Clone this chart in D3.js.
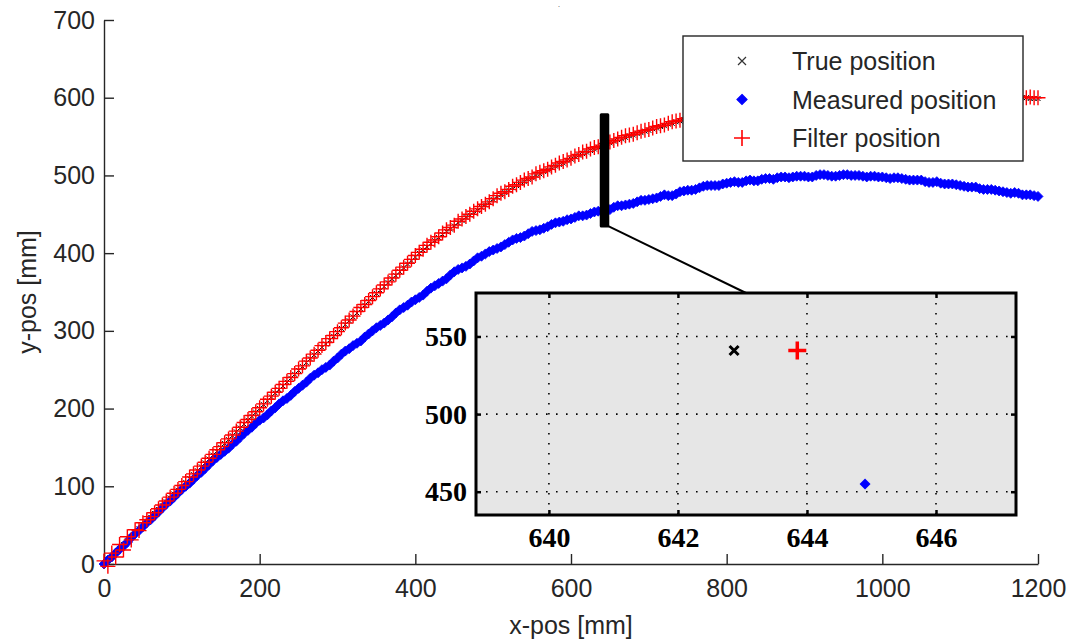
<!DOCTYPE html>
<html>
<head>
<meta charset="utf-8">
<script src="https://cdn.jsdelivr.net/npm/d3@7/dist/d3.min.js"></script>
<style>
  body{margin:0;background:#fff;}
  text{font-family:"Liberation Sans",Arial,sans-serif;}
</style>
</head>
<body>
<svg id="chart" width="1069" height="641"></svg>
<script>
// sample positions along x [mm]
var sampleX = [0,5,10,15,20,25,30,35,40,45,50,55,60,65,70,75,80,85,90,95,
  100,105,110,115,120,125,130,135,140,145,150,155,160,165,170,175,180,185,190,195,
  200,205,210,215,220,225,230,235,240,245,250,255,260,265,270,275,280,285,290,295,
  300,305,310,315,320,325,330,335,340,345,350,355,360,365,370,375,380,385,390,395,
  400,405,410,415,420,425,430,435,440,445,450,455,460,465,470,475,480,485,490,495,
  500,505,510,515,520,525,530,535,540,545,550,555,560,565,570,575,580,585,590,595,
  600,605,610,615,620,625,630,635,640,645,650,655,660,665,670,675,680,685,690,695,
  700,705,710,715,720,725,730,735,740,745,750,755,760,765,770,775,780,785,790,795,
  800,805,810,815,820,825,830,835,840,845,850,855,860,865,870,875,880,885,890,895,
  900,905,910,915,920,925,930,935,940,945,950,955,960,965,970,975,980,985,990,995,
  1000,1005,1010,1015,1020,1025,1030,1035,1040,1045,1050,1055,1060,1065,1070,1075,1080,1085,1090,1095,
  1100,1105,1110,1115,1120,1125,1130,1135,1140,1145,1150,1155,1160,1165,1170,1175,1180,1185,1190,1195,
  1200];

var trueY = [0,5,10,15,20,25,30,35,40,45,50,55,60,65,70,75,80,85,90,95,
  100,105,110,115,120,125,130,135,140,145,150,155,160,165,170,175,180,185,190,195,
  200,205,210,215,220,224,229,234,239,244,249,254,259,264,269,274,279,283,288,293,
  298,303,308,313,318,323,328,333,338,343,348,352,357,362,367,371,376,381,386,390,
  395,400,404,408,412,416,420,424,428,431,435,439,442,446,449,452,455,459,462,465,
  469,472,475,478,481,484,487,490,492,495,497,500,502,505,507,510,512,514,516,519,
  521,524,526,528,530,532,534,536,538,540,542,544,546,547,549,551,552,554,555,557,
  558,560,561,563,564,566,567,569,570,572,573,574,575,577,578,579,580,581,582,583,
  584,585,586,586,587,588,588,589,590,590,591,592,592,593,593,594,594,594,594,595,
  595,595,596,596,596,597,597,597,597,598,598,598,598,599,599,599,599,599,599,600,
  600,600,600,600,600,600,600,600,600,600,600,600,600,600,600,600,600,600,600,600,
  600,600,600,600,600,600,600,600,600,600,600,600,600,600,600,600,600,600,599,599,
  599];

var filterY = [4,-3,14,9,25,18,35,31,44,43,53,57,61,66,71,76,81,86,91,96,
  101,106,112,116,121,126,131,136,141,147,151,156,161,166,171,176,182,186,191,196,
  201,206,212,216,221,226,231,235,240,245,251,255,261,265,270,275,281,285,290,294,
  299,304,310,314,319,325,330,334,339,344,349,354,359,363,368,373,378,382,387,392,
  397,401,405,410,414,417,421,426,430,433,436,441,444,447,450,454,457,460,463,466,
  470,474,477,479,482,486,488,491,494,496,498,502,504,506,508,511,513,516,518,520,
  522,525,527,530,531,534,536,537,539,541,543,545,547,549,551,552,553,555,557,558,
  559,561,563,564,565,567,569,570,571,573,574,576,577,578,579,580,582,583,583,584,
  586,586,587,588,589,589,590,590,591,592,593,593,593,594,595,595,595,596,596,596,
  597,597,597,598,598,598,598,598,599,599,599,599,600,600,600,600,601,600,601,600,
  601,601,600,601,601,602,601,601,601,602,601,600,601,602,601,601,601,602,601,601,
  601,600,601,602,601,601,600,601,602,601,601,601,600,601,601,602,601,600,601,600,
  600];

var measuredY = [0,5,9,14,19,23,28,34,39,43,48,53,57,62,67,72,77,81,86,91,
  96,100,104,109,114,118,123,128,133,137,141,145,149,154,158,163,168,172,176,181,
  185,188,192,197,201,206,210,213,217,222,226,230,234,239,243,246,250,253,256,261,
  265,270,274,277,281,284,287,292,296,300,304,307,310,314,318,323,327,330,333,337,
  340,343,346,351,355,358,361,364,367,372,376,379,381,383,386,390,394,396,399,402,
  404,406,408,411,414,417,419,420,422,425,428,429,430,432,434,437,439,440,441,443,
  444,446,448,448,449,451,453,454,455,455,456,459,461,461,462,463,464,466,468,468,
  469,470,471,473,475,474,474,476,479,480,481,481,482,484,486,487,487,487,487,489,
  490,491,492,491,491,493,494,493,493,495,496,496,495,497,498,498,497,498,499,499,
  499,498,498,500,501,501,500,499,499,500,501,501,500,500,500,499,498,499,499,498,
  498,497,496,497,497,496,495,494,494,494,494,492,491,491,492,490,489,489,489,488,
  487,486,485,485,485,483,482,482,482,481,480,479,478,477,478,477,475,475,475,474,
  473];

var xTicks = [0,200,400,600,800,1000,1200];
var yTicks = [0,100,200,300,400,500,600,700];

// zoomed window
var zoomX = [638.87, 647.24];
var zoomY = [435, 578];
var zoomTicksX = [640,642,644,646];
var zoomTicksY = [450,500,550];
var zoomTrue = [642.87, 541];
var zoomFilter = [643.85, 541];
var zoomMeasured = [644.9, 455];

var legendLabels = ["True position","Measured position","Filter position"];

var ink = "#262626";
var svg = d3.select("#chart");

var x = d3.scaleLinear().domain([0,1200]).range([104,1038]);
var y = d3.scaleLinear().domain([0,700]).range([564,20]);

function crossPath(h){ return "M"+(-h)+","+(-h)+"L"+h+","+h+"M"+(-h)+","+h+"L"+h+","+(-h); }
function plusPath(h){ return "M"+(-h)+",0L"+h+",0M0,"+(-h)+"L0,"+h; }
function diamondPath(h){ return "M0,"+(-h)+"L"+h+",0L0,"+h+"L"+(-h)+",0Z"; }

// axes (box off, ticks inside)
var xAxis = d3.axisBottom(x).tickValues(xTicks).tickFormat(d3.format("d"))
              .tickSizeInner(-10).tickSizeOuter(0).tickPadding(15);
var yAxis = d3.axisLeft(y).tickValues(yTicks).tickFormat(d3.format("d"))
              .tickSizeInner(-10).tickSizeOuter(0).tickPadding(9);

var gx = svg.append("g").attr("transform","translate(0,564)").call(xAxis);
var gy = svg.append("g").attr("transform","translate(104,0)").call(yAxis);
[gx,gy].forEach(function(g){
  g.select(".domain").attr("stroke",ink).attr("stroke-width",1.4);
  g.selectAll(".tick line").attr("stroke",ink).attr("stroke-width",1.4);
  g.selectAll(".tick text").attr("fill",ink).style("font-size","25px")
   .style("font-family","'Liberation Sans',Arial,sans-serif");
});

svg.append("text").attr("x",571).attr("y",634).attr("text-anchor","middle")
   .attr("fill",ink).style("font-size","25px").text("x-pos [mm]");
svg.append("text").attr("transform","translate(36,292) rotate(-90)").attr("text-anchor","middle")
   .attr("fill",ink).style("font-size","25px").text("y-pos [mm]");
svg.append("text").attr("x",559).attr("y",7).attr("text-anchor","middle")
   .attr("fill",ink).style("font-size","7px").text(".");

// series
svg.append("g").selectAll("path").data(sampleX).enter().append("path")
   .attr("d",crossPath(2.5))
   .attr("transform",function(d,i){ return "translate("+x(d)+","+y(trueY[i])+")"; })
   .attr("stroke","#000").attr("stroke-width",1).attr("fill","none");

svg.append("g").selectAll("path").data(sampleX).enter().append("path")
   .attr("d",diamondPath(5))
   .attr("transform",function(d,i){ return "translate("+x(d)+","+y(measuredY[i])+")"; })
   .attr("fill","#0000ff").attr("stroke","#0000ff").attr("stroke-width",0.8);

svg.append("g").selectAll("path").data(sampleX).enter().append("path")
   .attr("d",plusPath(7.5))
   .attr("transform",function(d,i){ return "translate("+x(d)+","+y(filterY[i])+")"; })
   .attr("stroke","#ff0000").attr("stroke-width",1.4).attr("fill","none");

// zoom window marker + connector
var inset = {left:476, right:1016, top:293, bottom:515};
svg.append("rect")
   .attr("x",x(zoomX[0])).attr("y",y(zoomY[1]))
   .attr("width",x(zoomX[1])-x(zoomX[0])).attr("height",y(zoomY[0])-y(zoomY[1]))
   .attr("fill","#000").attr("stroke","#000").attr("stroke-width",3).attr("stroke-linejoin","round");
svg.append("line")
   .attr("x1",x(zoomX[1])).attr("y1",y(zoomY[0]))
   .attr("x2",(inset.left+inset.right)/2).attr("y2",inset.top)
   .attr("stroke","#000").attr("stroke-width",2);

// inset
var ix = d3.scaleLinear().domain(zoomX).range([inset.left,inset.right]);
var iy = d3.scaleLinear().domain(zoomY).range([inset.bottom,inset.top]);
var ig = svg.append("g");
ig.append("rect").attr("x",inset.left).attr("y",inset.top)
  .attr("width",inset.right-inset.left).attr("height",inset.bottom-inset.top)
  .attr("fill","#e6e6e6");

ig.selectAll("line.gx").data(zoomTicksX).enter().append("line").attr("class","gx")
  .attr("x1",function(d){return ix(d);}).attr("x2",function(d){return ix(d);})
  .attr("y1",inset.top).attr("y2",inset.bottom)
  .attr("stroke","#000").attr("stroke-width",1.6).attr("stroke-dasharray","1.6,8.4");
ig.selectAll("line.gy").data(zoomTicksY).enter().append("line").attr("class","gy")
  .attr("y1",function(d){return iy(d);}).attr("y2",function(d){return iy(d);})
  .attr("x1",inset.left).attr("x2",inset.right)
  .attr("stroke","#000").attr("stroke-width",1.6).attr("stroke-dasharray","1.6,8.4");

var ib = ig.append("g").attr("transform","translate(0,"+inset.bottom+")")
  .call(d3.axisBottom(ix).tickValues(zoomTicksX).tickSizeInner(-5).tickSizeOuter(0).tickPadding(12));
var it = ig.append("g").attr("transform","translate(0,"+inset.top+")")
  .call(d3.axisTop(ix).tickValues(zoomTicksX).tickSizeInner(-5).tickSizeOuter(0).tickFormat(""));
var il = ig.append("g").attr("transform","translate("+inset.left+",0)")
  .call(d3.axisLeft(iy).tickValues(zoomTicksY).tickSizeInner(-5).tickSizeOuter(0).tickPadding(9));
var ir = ig.append("g").attr("transform","translate("+inset.right+",0)")
  .call(d3.axisRight(iy).tickValues(zoomTicksY).tickSizeInner(-5).tickSizeOuter(0).tickFormat(""));
[ib,it,il,ir].forEach(function(g){
  g.select(".domain").remove();
  g.selectAll(".tick line").attr("stroke","#000").attr("stroke-width",2.5);
  g.selectAll(".tick text").attr("fill","#000").style("font-size","28px")
   .style("font-weight","bold").style("font-family","'Liberation Serif','Times New Roman',serif");
});

ig.append("path").attr("d",crossPath(4.5))
  .attr("transform","translate("+ix(zoomTrue[0])+","+iy(zoomTrue[1])+")")
  .attr("stroke","#000").attr("stroke-width",3).attr("fill","none");
ig.append("path").attr("d",diamondPath(5.5))
  .attr("transform","translate("+ix(zoomMeasured[0])+","+iy(zoomMeasured[1])+")")
  .attr("fill","#0000ff");
ig.append("path").attr("d",plusPath(9))
  .attr("transform","translate("+ix(zoomFilter[0])+","+iy(zoomFilter[1])+")")
  .attr("stroke","#ff0000").attr("stroke-width",3.5).attr("fill","none");

ig.append("rect").attr("x",inset.left).attr("y",inset.top)
  .attr("width",inset.right-inset.left).attr("height",inset.bottom-inset.top)
  .attr("fill","none").attr("stroke","#000").attr("stroke-width",3);

// legend
var lg = svg.append("g");
lg.append("rect").attr("x",683).attr("y",36).attr("width",340).attr("height",125)
  .attr("fill","#fff").attr("stroke",ink).attr("stroke-width",1.4);
var rows = lg.selectAll("g.row").data(legendLabels).enter().append("g")
  .attr("transform",function(d,i){ return "translate(742,"+(61+i*38.5)+")"; });
rows.append("path")
  .attr("d",function(d,i){ return i===0 ? crossPath(4) : (i===1 ? diamondPath(5) : plusPath(8)); })
  .attr("stroke",function(d,i){ return ["#333","#0000ff","#ff0000"][i]; })
  .attr("stroke-width",function(d,i){ return i===2 ? 1.6 : 1.2; })
  .attr("fill",function(d,i){ return i===1 ? "#0000ff" : "none"; });
rows.append("text").attr("x",50).attr("dy","0.36em")
  .attr("fill",ink).style("font-size","25px").text(function(d){ return d; });
</script>
</body>
</html>
